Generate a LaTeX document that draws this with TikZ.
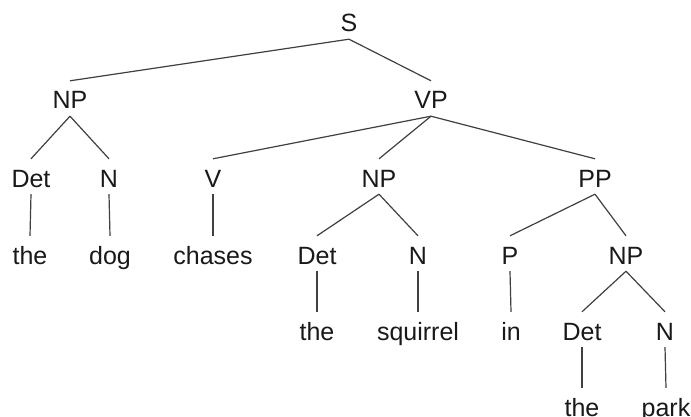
\documentclass[tikz,border=0pt]{standalone}
\usepackage{fontspec}
\setmainfont{Liberation Sans}
\begin{document}
\begin{tikzpicture}[x=1pt,y=-1pt,
  lbl/.style={anchor=base,inner xsep=0pt,inner ysep=7pt,text height=21pt,text depth=0pt,
    font=\fontsize{25}{30}\selectfont,text=black!90},
  edge/.style={draw=black!75,line width=1.2pt}]
\useasboundingbox[fill=white] (0,0) rectangle (691,417);
\clip (0,0) rectangle (691,417);
% level 0
\node[lbl] (S) at (349,32) {S};
% level 1
\node[lbl] (NPa) at (70,109) {NP};
\node[lbl] (VP) at (431,109) {VP};
% level 2
\node[lbl] (Deta) at (31,187) {Det};
\node[lbl] (Na) at (109,187) {N};
\node[lbl] (V) at (213,187) {V};
\node[lbl] (NPb) at (379,187) {NP};
\node[lbl] (PP) at (595,187) {PP};
% level 3
\node[lbl] (thea) at (30,264) {the};
\node[lbl] (dog) at (110,264) {dog};
\node[lbl] (chases) at (213,264) {chases};
\node[lbl] (Detb) at (317,264) {Det};
\node[lbl] (Nb) at (418,264) {N};
\node[lbl] (P) at (510,264) {P};
\node[lbl] (NPc) at (626,264) {NP};
% level 4
\node[lbl] (theb) at (317,340) {the};
\node[lbl] (squirrel) at (418,340) {squirrel};
\node[lbl] (in) at (511,340) {in};
\node[lbl] (Detc) at (582,340) {Det};
\node[lbl] (Nc) at (665,340) {N};
% level 5
\node[lbl] (thec) at (582,416) {the};
\node[lbl] (park) at (666,416) {park};
% edges
\draw[edge] (S.south) -- (NPa.north);
\draw[edge] (S.south) -- (VP.north);
\draw[edge] (NPa.south) -- (Deta.north);
\draw[edge] (NPa.south) -- (Na.north);
\draw[edge] (VP.south) -- (V.north);
\draw[edge] (VP.south) -- (NPb.north);
\draw[edge] (VP.south) -- (PP.north);
\draw[edge] (Deta.south) -- (thea.north);
\draw[edge] (Na.south) -- (dog.north);
\draw[edge] (V.south) -- (chases.north);
\draw[edge] (NPb.south) -- (Detb.north);
\draw[edge] (NPb.south) -- (Nb.north);
\draw[edge] (PP.south) -- (P.north);
\draw[edge] (PP.south) -- (NPc.north);
\draw[edge] (Detb.south) -- (theb.north);
\draw[edge] (Nb.south) -- (squirrel.north);
\draw[edge] (P.south) -- (in.north);
\draw[edge] (NPc.south) -- (Detc.north);
\draw[edge] (NPc.south) -- (Nc.north);
\draw[edge] (Detc.south) -- (thec.north);
\draw[edge] (Nc.south) -- (park.north);
\end{tikzpicture}
\end{document}
